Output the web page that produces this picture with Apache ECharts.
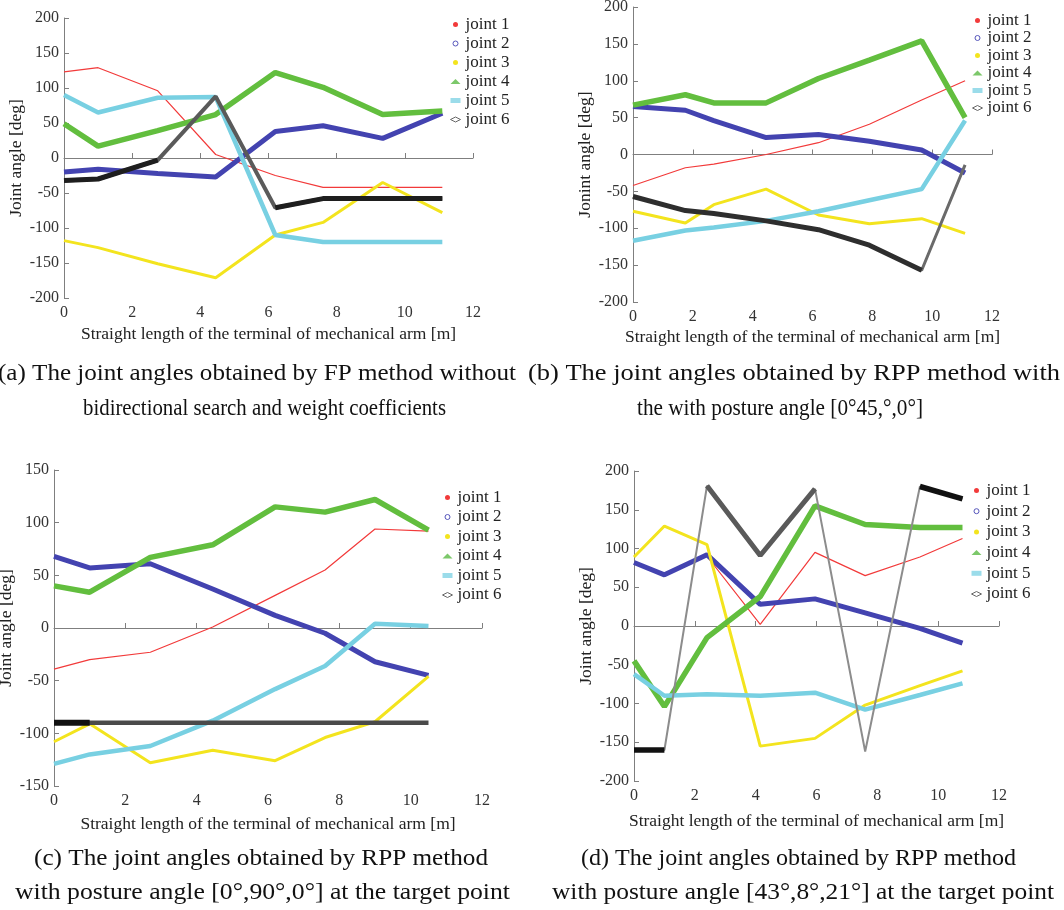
<!DOCTYPE html>
<html>
<head>
<meta charset="utf-8">
<script src="https://cdn.jsdelivr.net/npm/echarts@6/dist/echarts.min.js"></script>
<style>
  html, body { margin: 0; background: #fff; }
  #chart { width: 1064px; height: 910px; }
</style>
</head>
<body>
<div id="chart"></div>
<script>
const jointNames = ['joint 1', 'joint 2', 'joint 3', 'joint 4', 'joint 5', 'joint 6'];

// (a) FP method without bidirectional search / weights
const xA = [0, 1, 2.75, 4.45, 6.2, 7.6, 9.35, 11.1];
const jointsA = [
  [123, 129, 96, 5, -25, -42, -42, -42],
  [-20, -16, -22, -27, 38, 46, 28, 64],
  [-118, -128, -151, -171, -110, -92, -35, -78],
  [49, 17, 39, 62, 122, 101, 62, 67],
  [90, 65, 86, 87, -110, -120, -120, -120],
  [-32, -30, -3, 88, -71, -58, -58, -58]
];

// (b) RPP, posture [0,45,0]
const xB = [0, 1.75, 2.7, 4.45, 6.2, 7.9, 9.65, 11.1];
const jointsB = [
  [-42, -18, -13, 0, 16, 41, 74, 100],
  [65, 60, 46, 23, 27, 18, 6, -25],
  [-77, -93, -68, -47, -82, -94, -87, -107],
  [67, 81, 70, 70, 103, 128, 154, 50],
  [-117, -103, -99, -90, -77, -62, -47, 46],
  [-57, -76, -80, -90, -102, -123, -157, -14]
];

// (c) RPP, posture [0,90,0]
const xC = [0, 1, 2.7, 4.45, 6.2, 7.6, 9, 10.5];
const jointsC = [
  [-39, -30, -23, 1, 31, 55, 94, 92],
  [68, 57, 61, 37, 12, -5, -32, -45],
  [-108, -91, -128, -116, -126, -104, -89, -46],
  [40, 34, 67, 79, 115, 110, 122, 93],
  [-129, -120, -112, -88, -58, -36, 4, 2],
  [-90, -90, -90, -90, -90, -90, -90, -90]
];

// (d) RPP, posture [43,8,21]
const xD = [0, 1, 2.4, 4.15, 5.95, 7.6, 9.4, 10.8];
const jointsD = [
  [80, 68, 90, 2, 95, 65, 89, 113],
  [82, 66, 92, 28, 35, 17, -3, -22],
  [89, 129, 105, -155, -145, -102, -77, -58],
  [-45, -104, -15, 38, 155, 131, 127, 127],
  [-62, -90, -88, -90, -86, -108, -89, -74],
  [-160, -160, 181, 91, 177, -162, 180, 164]
];

const yTicksA = [-200, 200, 50];
const yTicksC = [-150, 150, 50];
const xTicks = [0, 12, 2];

const captions = [
  '(a) The joint angles obtained by FP method without',
  'bidirectional search and weight coefficients',
  '(b) The joint angles obtained by RPP method with',
  'the with posture angle [0°45,°,0°]',
  '(c) The joint angles obtained by RPP method',
  'with posture angle [0°,90°,0°] at the target point',
  '(d) The joint angles obtained by RPP method',
  'with posture angle [43°,8°,21°] at the target point'
];

// ---- styling ----
const FONT = "'Liberation Serif', 'DejaVu Serif', serif";
const colors = ['#f23a3a', '#4343b0', '#f3e41e', '#62be3e', '#78d0e2', '#2b2b2b'];
const widths = [1.2, 5, 3, 5.5, 4.5, 4.5];

const panels = [
  { x: xA, joints: jointsA, yt: yTicksA, yName: 'Joint angle [deg]',
    grid: { left: 64, top: 18, width: 409, height: 280 }, xGap: 27, yGap: 38,
    legend: { left: 450, top: 16, itemGap: 2 },
    j6: { color: '#5a5a5a', width: 4 },
    j6Over: [{ from: 0, to: 2, color: '#1e1e1e', width: 5 }, { from: 4, to: 7, color: '#1e1e1e', width: 5 }] },
  { x: xB, joints: jointsB, yt: yTicksA, yName: 'Jonint angle [deg]',
    grid: { left: 633, top: 7, width: 359, height: 295 }, xGap: 26, yGap: 26,
    legend: { left: 972, top: 12, itemGap: 0.5 },
    j6: { color: '#6a6a6a', width: 3 },
    j6Over: [{ from: 0, to: 6, color: '#2e2e2e', width: 5 }] },
  { x: xC, joints: jointsC, yt: yTicksC, yName: 'Joint angle [deg]',
    grid: { left: 54, top: 470, width: 428, height: 316 }, xGap: 29, yGap: 22,
    legend: { left: 442, top: 489, itemGap: 2.5 },
    j6: { color: '#4a4a4a', width: 4.5 },
    j6Over: [{ from: 0, to: 1, color: '#111', width: 6 }] },
  { x: xD, joints: jointsD, yt: yTicksA, yName: 'Joint angle [deg]',
    grid: { left: 634, top: 471, width: 365, height: 310 }, xGap: 31, yGap: 33,
    legend: { left: 971, top: 482, itemGap: 3.7 },
    j6: { color: '#8c8c8c', width: 2 },
    j6Over: [{ from: 0, to: 1, color: '#111', width: 5.5 },
             { from: 2, to: 4, color: '#5a5a5a', width: 5 },
             { from: 6, to: 7, color: '#111', width: 5.5 }] }
];

// caption line placement: [left, right, centerY]
const capPos = [
  [-2, 516, 374], [83, 446, 409],
  [528, 1060, 374], [637, 923, 409],
  [34, 488, 859], [15, 510, 893],
  [581, 1016, 859], [552, 1054, 893]
];

const legendItems = [
  { name: 'joint 1', icon: 'circle', itemStyle: { color: '#f23a3a' } },
  { name: 'joint 2', icon: 'circle', itemStyle: { color: '#fff', borderColor: '#5555bb', borderWidth: 1 } },
  { name: 'joint 3', icon: 'circle', itemStyle: { color: '#f3e41e' } },
  { name: 'joint 4', icon: 'triangle', itemStyle: { color: '#7cc86a' } },
  { name: 'joint 5', icon: 'rect', itemStyle: { color: '#9bdcea' } },
  { name: 'joint 6', icon: 'diamond', itemStyle: { color: '#fff', borderColor: '#666', borderWidth: 1 } }
];

const grid = [], xAxis = [], yAxis = [], series = [], legend = [];
const axisCommon = {
  axisLine: { show: true, lineStyle: { color: '#7f7f7f', width: 1 } },
  axisTick: { show: true, inside: true, length: 5, lineStyle: { color: '#7f7f7f' } },
  splitLine: { show: false },
  axisLabel: { color: '#333', fontFamily: FONT, fontSize: 16 },
  nameTextStyle: { color: '#222', fontFamily: FONT, fontSize: 17.5 }
};

panels.forEach((p, i) => {
  grid.push(Object.assign({ outerBoundsMode: 'none' }, p.grid));
  xAxis.push(Object.assign({}, axisCommon, {
    gridIndex: i, type: 'value', min: xTicks[0], max: xTicks[1], interval: xTicks[2],
    name: 'Straight length of the terminal of mechanical arm [m]',
    nameLocation: 'middle', nameGap: p.xGap,
    axisLabel: Object.assign({}, axisCommon.axisLabel, { margin: 7 })
  }));
  yAxis.push(Object.assign({}, axisCommon, {
    gridIndex: i, type: 'value', min: p.yt[0], max: p.yt[1], interval: p.yt[2],
    name: p.yName, nameLocation: 'middle', nameGap: p.yGap,
    axisLabel: Object.assign({}, axisCommon.axisLabel, { margin: 5 })
  }));
  p.joints.forEach((vals, j) => {
    const isJ6 = j === 5;
    series.push({
      type: 'line', name: jointNames[j], xAxisIndex: i, yAxisIndex: i,
      data: vals.map((v, k) => [p.x[k], v]),
      showSymbol: false, silent: true,
      lineStyle: isJ6 ? { color: p.j6.color, width: p.j6.width } : { color: colors[j], width: widths[j] },
      itemStyle: { color: colors[j] },
      z: 2 + j
    });
  });
  // thicker stretches of joint 6 where the original markers are packed densely
  const j6 = p.joints[5];
  p.j6Over.forEach(seg => {
    const d = [];
    for (let k = seg.from; k <= seg.to; k++) d.push([p.x[k], j6[k]]);
    series.push({
      type: 'line', name: 'joint 6', xAxisIndex: i, yAxisIndex: i,
      data: d, showSymbol: false, silent: true,
      lineStyle: { color: seg.color, width: seg.width },
      itemStyle: { color: colors[5] }, z: 8
    });
  });
  legend.push({
    orient: 'vertical', left: p.legend.left, top: p.legend.top, itemGap: p.legend.itemGap,
    itemWidth: 10, itemHeight: 5, padding: 0, selectedMode: false,
    textStyle: { color: '#222', fontFamily: FONT, fontSize: 17 },
    data: legendItems
  });
});

// caption text, each line squeezed to the measured width of the original
const ctx = document.createElement('canvas').getContext('2d');
const capFont = "24px " + FONT;
ctx.font = capFont;
const graphic = captions.map((t, i) => {
  const [l, r, cy] = capPos[i];
  const w = ctx.measureText(t).width;
  return {
    type: 'text', x: (l + r) / 2, y: cy, scaleX: (r - l) / w, silent: true,
    style: { text: t, font: capFont, fill: '#111', textAlign: 'center', textVerticalAlign: 'middle' }
  };
});

const chart = echarts.init(document.getElementById('chart'));
chart.setOption({
  animation: false,
  backgroundColor: '#fff',
  grid, xAxis, yAxis, series, legend, graphic
});
window.addEventListener('resize', () => chart.resize());
</script>
</body>
</html>
